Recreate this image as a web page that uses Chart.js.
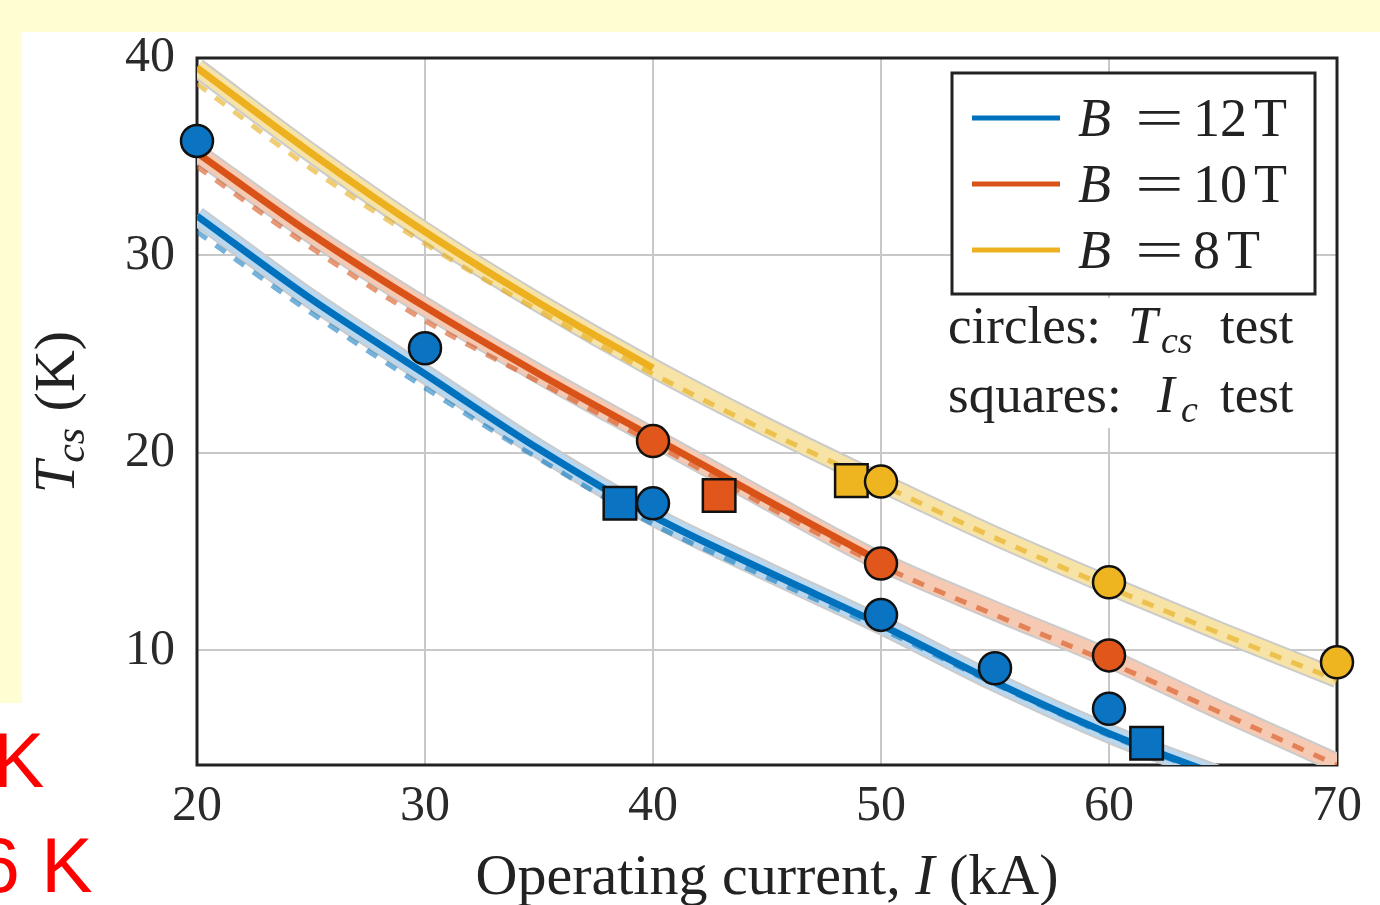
<!DOCTYPE html>
<html>
<head>
<meta charset="utf-8">
<script src="https://cdn.jsdelivr.net/npm/chart.js@4"></script>
<style>
  html, body { margin: 0; padding: 0; background: #fff; }
  body { width: 1380px; height: 905px; position: relative; overflow: hidden; }
  .slide { position: absolute; background: #fffdd2; }
  .red { position: absolute; color: #ff0000; font-family: "Liberation Sans", Arial, sans-serif;
         font-size: 77px; line-height: 77px; white-space: nowrap; z-index: 2; }
  #tcsChart { position: absolute; left: 0; top: 0; z-index: 1; }
</style>
</head>
<body>
<div class="slide" style="left:0;top:0;width:1380px;height:32px"></div>
<div class="slide" style="left:0;top:0;width:22px;height:703px"></div>
<canvas id="tcsChart" width="1380" height="905"></canvas>
<div class="red" style="left:-7px;top:722px">K</div>
<div class="red" style="left:-23px;top:827px">6 K</div>
<script>
// operating current grid (kA) for the model curves
const currents = [20, 25, 30, 35, 40, 45, 50, 55, 60, 65, 70];

// model Tcs (K), solid curves + shaded band centre
const fit12 = [32.0, 27.8, 24.0, 20.2, 16.8, 14.0, 11.3, 8.4, 5.8, 3.6, null];
const fit10 = [35.2, 31.1, 27.4, 24.0, 20.8, 17.6, 14.5, 12.0, 9.6, 6.9, 4.3];
const fit8  = [39.5, 35.2, 31.2, 27.6, 24.3, 21.3, 18.5, 15.8, 13.3, 10.9, 8.6];

// second model, dashed curves
const dash12 = [31.2, 27.1, 23.3, 19.7, 16.4, 13.7, 11.1, 8.3, 5.7, 3.5, null];
const dash10 = [34.5, 30.4, 26.7, 23.6, 20.5, 17.3, 14.3, 11.8, 9.4, 6.8, 4.2];
const dash8  = [38.7, 34.4, 30.6, 27.2, 24.0, 21.1, 18.4, 15.7, 13.2, 10.8, 8.5];

// solid curve is drawn up to this current (kA): 12 T, 10 T, 8 T
const solidUntil = [65, 50, 40];

// Tcs test points (circles)
const tcsI12 = [20, 30, 40, 50, 55, 60];
const tcsT12 = [35.8, 25.3, 17.45, 11.8, 9.1, 7.05];
const tcsI10 = [40, 50, 60];
const tcsT10 = [20.6, 14.4, 9.75];
const tcsI8  = [50, 60, 70];
const tcsT8  = [18.55, 13.45, 9.4];

// Ic test points (squares)
const icI12 = [38.55, 61.65];
const icT12 = [17.45, 5.3];
const icI10 = [42.9];
const icT10 = [17.85];
const icI8  = [48.7];
const icT8  = [18.6];

const fields = ['12', '10', '8'];
const xTicks = [20, 30, 40, 50, 60, 70];
const yTicks = [10, 20, 30, 40];

const lineColors = ['#0072bd', '#d95319', '#edb120'];
const markColors = ['#0b74c2', '#e0561b', '#efb520'];
const paleColors = ['#b9d7ee', '#f6c9b3', '#f8e3a6'];
const dashColors = ['rgba(0,114,189,0.55)', 'rgba(217,83,25,0.6)', 'rgba(230,170,20,0.6)'];

function pts(xs, ys) {
  return xs.map((x, i) => ({ x: x, y: ys[i] }));
}

const fits = [fit12, fit10, fit8];
const dashes = [dash12, dash10, dash8];
const tcsSets = [[tcsI12, tcsT12], [tcsI10, tcsT10], [tcsI8, tcsT8]];
const icSets = [[icI12, icT12], [icI10, icT10], [icI8, icT8]];

const datasets = [];
fields.forEach((f, k) => {
  const curve = {
    type: 'line', showLine: true, pointRadius: 0, fill: false, clip: 0,
    cubicInterpolationMode: 'monotone'
  };
  // band: grey edge, then pale fill
  datasets.push(Object.assign({}, curve, {
    label: 'band edge ' + f, data: pts(currents, fits[k]),
    borderColor: '#cbcbcb', borderWidth: 20, order: 6
  }));
  datasets.push(Object.assign({}, curve, {
    label: 'band ' + f, data: pts(currents, fits[k]),
    borderColor: paleColors[k], borderWidth: 16, order: 5
  }));
  datasets.push(Object.assign({}, curve, {
    label: 'B = ' + f + ' T', data: pts(currents, fits[k]).filter(p => p.x <= solidUntil[k]),
    borderColor: lineColors[k], borderWidth: 7, order: 4
  }));
  datasets.push(Object.assign({}, curve, {
    label: 'dashed ' + f, data: pts(currents, dashes[k]),
    borderColor: dashColors[k], borderWidth: 5, borderDash: [12, 11], order: 3
  }));
});
fields.forEach((f, k) => {
  datasets.push({
    label: 'Tcs test ' + f, data: pts(tcsSets[k][0], tcsSets[k][1]),
    showLine: false, pointStyle: 'circle', pointRadius: 16,
    pointBackgroundColor: markColors[k], pointBorderColor: '#111', pointBorderWidth: 2.5,
    clip: false, order: 1
  });
  datasets.push({
    label: 'Ic test ' + f, data: pts(icSets[k][0], icSets[k][1]),
    showLine: false, pointStyle: 'rect', pointRadius: 23,
    pointBackgroundColor: markColors[k], pointBorderColor: '#111', pointBorderWidth: 2.5,
    clip: false, order: 1
  });
});

function put(ctx, text, x, y, size, italic) {
  ctx.font = (italic ? 'italic ' : '') + size + 'px "Liberation Serif", serif';
  ctx.fillText(text, x, y);
  return x + ctx.measureText(text).width;
}

function widthOf(ctx, text, size, italic) {
  ctx.font = (italic ? 'italic ' : '') + size + 'px "Liberation Serif", serif';
  return ctx.measureText(text).width;
}

const notes = {
  id: 'notes',
  beforeDatasetsDraw(chart) {
    const { ctx, chartArea: a } = chart;
    ctx.save();
    ctx.strokeStyle = '#222';
    ctx.lineWidth = 3;
    ctx.strokeRect(a.left, a.top, a.right - a.left, a.bottom - a.top);
    ctx.restore();
  },
  afterDraw(chart) {
    const ctx = chart.ctx;
    ctx.save();
    ctx.fillStyle = '#222';
    ctx.textBaseline = 'alphabetic';
    ctx.textAlign = 'left';

    // legend box
    ctx.fillStyle = '#fff';
    ctx.fillRect(952, 73, 363, 221);
    ctx.strokeStyle = '#222';
    ctx.lineWidth = 3;
    ctx.strokeRect(952, 73, 363, 221);
    const rowY = [118, 184, 250];
    fields.forEach((f, k) => {
      ctx.strokeStyle = lineColors[k];
      ctx.lineWidth = 5;
      ctx.beginPath();
      ctx.moveTo(972, rowY[k]);
      ctx.lineTo(1060, rowY[k]);
      ctx.stroke();
      ctx.fillStyle = '#222';
      const base = rowY[k] + 18;
      put(ctx, 'B', 1078, base, 54, true);
      // wide equals sign, like the TeX one
      ctx.save();
      ctx.translate(1135, base);
      ctx.scale(1.6, 1);
      put(ctx, '=', 0, 0, 54, false);
      ctx.restore();
      const x = put(ctx, f, 1193, base, 54, false);
      put(ctx, 'T', x + 7, base, 54, false);
    });

    // marker notes
    ctx.fillStyle = '#fff';
    ctx.fillRect(944, 298, 364, 130);
    ctx.fillStyle = '#222';
    put(ctx, 'circles:', 948, 343, 53, false);
    put(ctx, 'T', 1128, 343, 53, true);
    put(ctx, 'cs', 1161, 353, 38, true);
    put(ctx, 'test', 1220, 343, 53, false);
    put(ctx, 'squares:', 948, 412, 53, false);
    put(ctx, 'I', 1157, 412, 53, true);
    put(ctx, 'c', 1181, 422, 38, true);
    put(ctx, 'test', 1220, 412, 53, false);

    // x title
    const xw = widthOf(ctx, 'Operating current, ', 58, false) + widthOf(ctx, 'I', 58, true) +
               widthOf(ctx, ' (kA)', 58, false);
    let x = 767 - xw / 2;
    x = put(ctx, 'Operating current, ', x, 894, 58, false);
    x = put(ctx, 'I', x, 894, 58, true);
    put(ctx, ' (kA)', x, 894, 58, false);

    // y title
    ctx.translate(74, 412);
    ctx.rotate(-Math.PI / 2);
    const yw = widthOf(ctx, 'T', 58, true) + widthOf(ctx, 'cs', 42, true) + widthOf(ctx, ' (K)', 58, false);
    let y = -yw / 2;
    y = put(ctx, 'T', y, 0, 58, true);
    y = put(ctx, 'cs', y - 2, 10, 42, true);
    put(ctx, ' (K)', y + 2, 0, 58, false);
    ctx.restore();
  }
};

Chart.defaults.font.family = '"Liberation Serif", serif';
Chart.defaults.color = '#2a2a2a';

new Chart(document.getElementById('tcsChart').getContext('2d'), {
  type: 'line',
  data: { datasets: datasets },
  options: {
    responsive: false,
    animation: false,
    devicePixelRatio: 1,
    layout: { padding: { left: 0, top: 58, right: 43, bottom: 0 } },
    plugins: { legend: { display: false }, tooltip: { enabled: false } },
    scales: {
      x: {
        type: 'linear', min: 20, max: 70,
        afterBuildTicks: s => { s.ticks = xTicks.map(v => ({ value: v })); },
        afterFit: s => { s.height = 140; },
        ticks: { font: { size: 50 }, padding: 12, maxRotation: 0 },
        grid: { color: '#c8c8c8', lineWidth: 2, drawTicks: false },
        border: { display: false }
      },
      y: {
        type: 'linear', min: 4.2, max: 40,
        afterBuildTicks: s => { s.ticks = yTicks.map(v => ({ value: v })); },
        afterFit: s => { s.width = 197; },
        ticks: { font: { size: 50 }, padding: 22 },
        grid: { color: '#c8c8c8', lineWidth: 2, drawTicks: false },
        border: { display: false }
      }
    }
  },
  plugins: [notes]
});
</script>
</body>
</html>
